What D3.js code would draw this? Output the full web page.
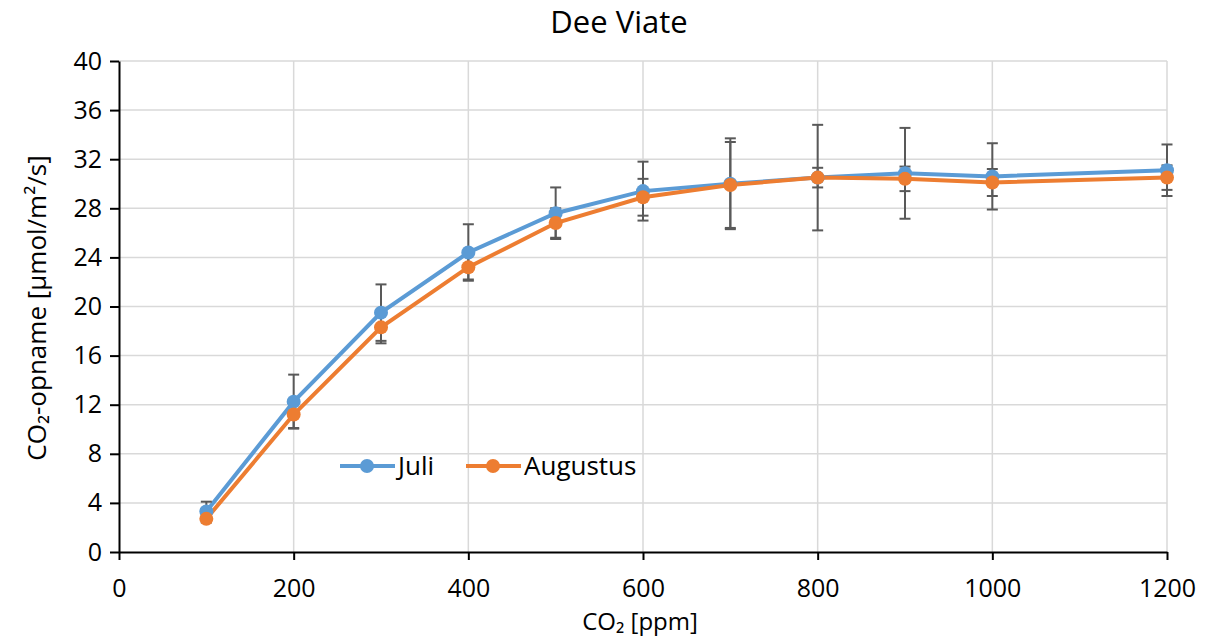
<!DOCTYPE html>
<html>
<head>
<meta charset="utf-8">
<script src="https://cdn.jsdelivr.net/npm/d3@7"></script>
<style>
  body { margin: 0; background: #fff; }
  text { font-family: "Open Sans", sans-serif; }
</style>
</head>
<body>
<script>
// data
const co2 = [100, 200, 300, 400, 500, 600, 700, 800, 900, 1000, 1200];
const juli = [3.3, 12.25, 19.5, 24.4, 27.6, 29.4, 30.0, 30.5, 30.85, 30.6, 31.1];
const juliErr = [0.8, 2.2, 2.3, 2.3, 2.1, 2.4, 3.7, 4.3, 3.7, 2.7, 2.1];
const augustus = [2.7, 11.2, 18.3, 23.2, 26.8, 28.9, 29.9, 30.5, 30.4, 30.1, 30.5];
const augustusErr = [0.3, 1.1, 1.3, 1.0, 1.2, 1.5, 3.5, 0.8, 1.0, 1.1, 1.0];
const xTicks = [0, 200, 400, 600, 800, 1000, 1200];
const yTicks = [0, 4, 8, 12, 16, 20, 24, 28, 32, 36, 40];

const series = [
  { name: "Juli", values: juli, err: juliErr, color: "#5B9BD5" },
  { name: "Augustus", values: augustus, err: augustusErr, color: "#ED7D31" }
];

var W = 1206, H = 637;
var margin = {top: 61, right: 39, bottom: 85, left: 119},
    width = W - margin.left - margin.right,
    height = H - margin.top - margin.bottom;

var x = d3.scaleLinear().domain([0, 1200]).range([0, width]);
var y = d3.scaleLinear().domain([0, 40]).range([height, 0]);

var svgRoot = d3.select("body").append("svg")
  .attr("width", W)
  .attr("height", H);

var svg = svgRoot.append("g")
  .attr("transform", "translate(" + margin.left + "," + margin.top + ")");

// gridlines
svg.append("g").selectAll("line").data(yTicks.slice(1)).enter().append("line")
  .attr("x1", 0).attr("x2", width)
  .attr("y1", d => y(d)).attr("y2", d => y(d))
  .attr("stroke", "#D9D9D9").attr("stroke-width", 1.5);
svg.append("g").selectAll("line").data(xTicks.slice(1)).enter().append("line")
  .attr("y1", 0).attr("y2", height)
  .attr("x1", d => x(d)).attr("x2", d => x(d))
  .attr("stroke", "#D9D9D9").attr("stroke-width", 1.5);

// axes
var xAxis = svg.append("g")
  .attr("transform", "translate(0," + height + ")")
  .call(d3.axisBottom(x).tickValues(xTicks).tickFormat(d3.format("d"))
    .tickSize(8).tickSizeOuter(0).tickPadding(19));
var yAxis = svg.append("g")
  .call(d3.axisLeft(y).tickValues(yTicks).tickSize(9).tickSizeOuter(0).tickPadding(8));

[xAxis, yAxis].forEach(function(a) {
  a.attr("font-family", null).attr("font-size", null);
  a.select(".domain").attr("stroke", "#000").attr("stroke-width", 2);
  a.selectAll(".tick line").attr("stroke", "#000").attr("stroke-width", 2);
  a.selectAll(".tick text").attr("fill", "#000").style("font-size", "25px");
});

// lines
var line = d3.line()
  .x((d, i) => x(co2[i]))
  .y(d => y(d));

series.forEach(function(s) {
  svg.append("path")
    .datum(s.values)
    .attr("fill", "none")
    .attr("stroke", s.color)
    .attr("stroke-width", 4)
    .attr("d", line);
});

// error bars
series.forEach(function(s) {
  var g = svg.append("g");
  var bars = g.selectAll("g").data(s.values).enter().append("g");
  bars.append("line")
    .attr("x1", (d, i) => x(co2[i])).attr("x2", (d, i) => x(co2[i]))
    .attr("y1", (d, i) => y(d + s.err[i])).attr("y2", (d, i) => y(d - s.err[i]))
    .attr("stroke", "#595959").attr("stroke-width", 2);
  [1, -1].forEach(function(sign) {
    bars.append("line")
      .attr("x1", (d, i) => x(co2[i]) - 5.5).attr("x2", (d, i) => x(co2[i]) + 5.5)
      .attr("y1", (d, i) => y(d + sign * s.err[i])).attr("y2", (d, i) => y(d + sign * s.err[i]))
      .attr("stroke", "#595959").attr("stroke-width", 2);
  });
});

// markers
series.forEach(function(s) {
  svg.append("g").selectAll("circle").data(s.values).enter().append("circle")
    .attr("cx", (d, i) => x(co2[i]))
    .attr("cy", d => y(d))
    .attr("r", 7)
    .attr("fill", s.color);
});

// legend
var legend = svgRoot.append("g").attr("transform", "translate(340,466)");
var lx = [0, 126];
series.forEach(function(s, i) {
  var lg = legend.append("g").attr("transform", "translate(" + lx[i] + ",0)");
  lg.append("line").attr("x1", 0).attr("x2", 55).attr("y1", 0).attr("y2", 0)
    .attr("stroke", s.color).attr("stroke-width", 4);
  lg.append("circle").attr("cx", 27).attr("cy", 0).attr("r", 7).attr("fill", s.color);
  lg.append("text").attr("x", 58).attr("y", 0).attr("dy", "0.36em")
    .style("font-size", "26px").attr("fill", "#000").text(s.name);
});

// title and axis titles
svgRoot.append("text")
  .attr("x", 619).attr("y", 33)
  .attr("text-anchor", "middle")
  .style("font-size", "31px").attr("fill", "#000")
  .text("Dee Viate");

svgRoot.append("text")
  .attr("x", 640).attr("y", 630)
  .attr("text-anchor", "middle")
  .style("font-size", "24px").attr("fill", "#000")
  .text("CO₂ [ppm]");

svgRoot.append("text")
  .attr("transform", "translate(46,308) rotate(-90)")
  .attr("text-anchor", "middle")
  .style("font-size", "26px").attr("fill", "#000")
  .text("CO₂-opname [µmol/m²/s]");
</script>
</body>
</html>
